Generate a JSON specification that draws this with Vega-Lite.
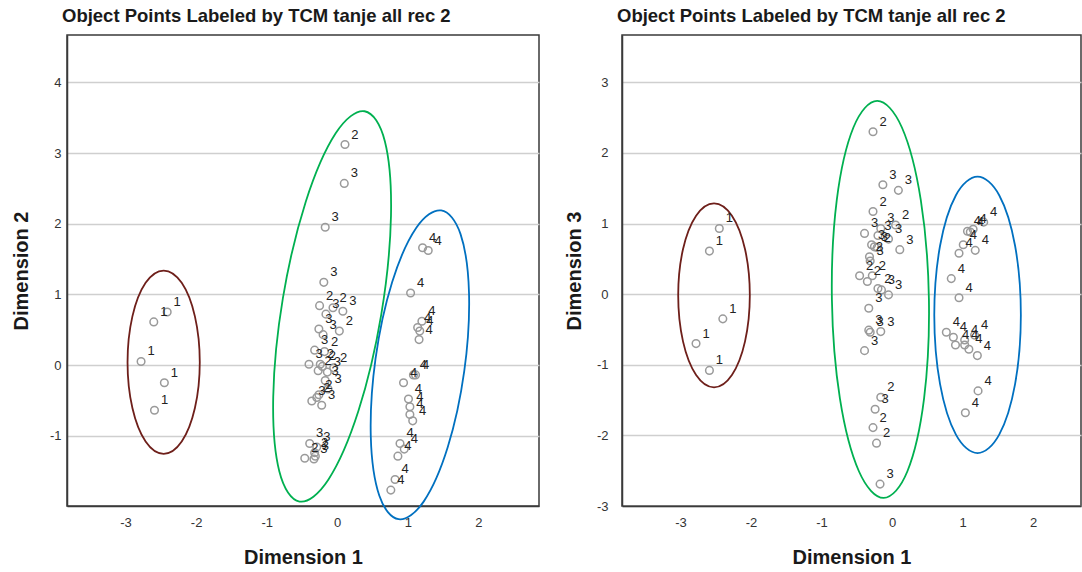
{
  "$schema": "https://vega.github.io/schema/vega-lite/v6.json",
  "background": "white",
  "padding": {"left": 10, "top": 5, "right": 0, "bottom": 0},
  "spacing": 23,
  "config": {
    "font": "Liberation Sans",
    "view": {"stroke": "#3a3a3a", "strokeWidth": 1.5},
    "axis": {
      "labelFont": "Liberation Sans",
      "labelFontSize": 13,
      "labelColor": "#333333",
      "titleFont": "Liberation Sans",
      "titleFontSize": 20,
      "titleFontWeight": "bold",
      "titleColor": "#1a1a1a",
      "ticks": false,
      "tickSize": 0,
      "domainColor": "#3a3a3a",
      "domainWidth": 1.5,
      "gridColor": "#cfcfcf",
      "gridWidth": 1.5,
      "labelExpr": "'' + datum.value"
    },
    "axisX": {"grid": false, "labelPadding": 10, "titlePadding": 18},
    "axisY": {"grid": true, "labelPadding": 6, "titlePadding": 18},
    "title": {
      "font": "Liberation Sans",
      "fontSize": 18.5,
      "fontWeight": "bold",
      "color": "#1a1a1a",
      "anchor": "start",
      "frame": "group",
      "offset": 10,
      "dx": -5
    }
  },
  "datasets": {
    "dim2Points": [
      {"dim1": -2.41, "dim2": 0.75, "label": "1"},
      {"dim1": -2.60, "dim2": 0.61, "label": "1"},
      {"dim1": -2.78, "dim2": 0.05, "label": "1"},
      {"dim1": -2.45, "dim2": -0.25, "label": "1"},
      {"dim1": -2.59, "dim2": -0.64, "label": "1"},
      {"dim1": 0.11, "dim2": 3.12, "label": "2"},
      {"dim1": 0.10, "dim2": 2.57, "label": "3"},
      {"dim1": -0.17, "dim2": 1.95, "label": "3"},
      {"dim1": -0.19, "dim2": 1.17, "label": "3"},
      {"dim1": -0.25, "dim2": 0.84, "label": "2"},
      {"dim1": -0.06, "dim2": 0.81, "label": "2"},
      {"dim1": 0.08, "dim2": 0.76, "label": "3"},
      {"dim1": -0.16, "dim2": 0.72, "label": "3"},
      {"dim1": -0.26, "dim2": 0.51, "label": "3"},
      {"dim1": -0.20, "dim2": 0.43, "label": "3"},
      {"dim1": 0.03, "dim2": 0.48, "label": "2"},
      {"dim1": -0.32, "dim2": 0.21, "label": "3"},
      {"dim1": -0.18, "dim2": 0.19, "label": "2"},
      {"dim1": -0.40, "dim2": 0.01, "label": "3"},
      {"dim1": -0.24, "dim2": 0.01, "label": "2"},
      {"dim1": -0.21, "dim2": -0.02, "label": "2"},
      {"dim1": -0.27, "dim2": -0.08, "label": "2"},
      {"dim1": -0.14, "dim2": -0.10, "label": "3"},
      {"dim1": -0.05, "dim2": -0.04, "label": "2"},
      {"dim1": -0.17, "dim2": -0.22, "label": "3"},
      {"dim1": -0.13, "dim2": -0.34, "label": "3"},
      {"dim1": -0.26, "dim2": -0.42, "label": "2"},
      {"dim1": -0.29, "dim2": -0.46, "label": "2"},
      {"dim1": -0.36, "dim2": -0.51, "label": "3"},
      {"dim1": -0.22, "dim2": -0.57, "label": "3"},
      {"dim1": -0.39, "dim2": -1.11, "label": "3"},
      {"dim1": -0.29, "dim2": -1.16, "label": "3"},
      {"dim1": -0.32, "dim2": -1.24, "label": "2"},
      {"dim1": -0.31, "dim2": -1.29, "label": "3"},
      {"dim1": -0.46, "dim2": -1.32, "label": "2"},
      {"dim1": -0.33, "dim2": -1.33, "label": "3"},
      {"dim1": 1.21, "dim2": 1.66, "label": "4"},
      {"dim1": 1.29, "dim2": 1.62, "label": "4"},
      {"dim1": 1.04, "dim2": 1.02, "label": "4"},
      {"dim1": 1.20, "dim2": 0.62, "label": "4"},
      {"dim1": 1.14, "dim2": 0.53, "label": "4"},
      {"dim1": 1.17, "dim2": 0.48, "label": "4"},
      {"dim1": 1.16, "dim2": 0.36, "label": "4"},
      {"dim1": 1.11, "dim2": -0.14, "label": "4"},
      {"dim1": 1.08, "dim2": -0.14, "label": "4"},
      {"dim1": 0.94, "dim2": -0.25, "label": "4"},
      {"dim1": 1.01, "dim2": -0.48, "label": "4"},
      {"dim1": 1.03, "dim2": -0.59, "label": "4"},
      {"dim1": 1.03, "dim2": -0.70, "label": "4"},
      {"dim1": 1.07, "dim2": -0.79, "label": "4"},
      {"dim1": 0.89, "dim2": -1.11, "label": "4"},
      {"dim1": 0.95, "dim2": -1.19, "label": "4"},
      {"dim1": 0.86, "dim2": -1.29, "label": "4"},
      {"dim1": 0.82, "dim2": -1.62, "label": "4"},
      {"dim1": 0.76, "dim2": -1.77, "label": "4"}
    ],
    "dim2Rings": [
      {"ring": 1, "step": 0, "dim1": -1.948, "dim2": 0.04},
      {"ring": 1, "step": 1, "dim1": -2.017, "dim2": 0.689},
      {"ring": 1, "step": 2, "dim1": -2.204, "dim2": 1.163},
      {"ring": 1, "step": 3, "dim1": -2.46, "dim2": 1.337},
      {"ring": 1, "step": 4, "dim1": -2.716, "dim2": 1.163},
      {"ring": 1, "step": 5, "dim1": -2.903, "dim2": 0.689},
      {"ring": 1, "step": 6, "dim1": -2.972, "dim2": 0.04},
      {"ring": 1, "step": 7, "dim1": -2.903, "dim2": -0.609},
      {"ring": 1, "step": 8, "dim1": -2.716, "dim2": -1.083},
      {"ring": 1, "step": 9, "dim1": -2.46, "dim2": -1.257},
      {"ring": 1, "step": 10, "dim1": -2.204, "dim2": -1.083},
      {"ring": 1, "step": 11, "dim1": -2.017, "dim2": -0.609},
      {"ring": 2, "step": 0, "dim1": 0.389, "dim2": 3.591},
      {"ring": 2, "step": 1, "dim1": 0.676, "dim2": 3.163},
      {"ring": 2, "step": 2, "dim1": 0.762, "dim2": 2.109},
      {"ring": 2, "step": 3, "dim1": 0.624, "dim2": 0.713},
      {"ring": 2, "step": 4, "dim1": 0.300, "dim2": -0.652},
      {"ring": 2, "step": 5, "dim1": -0.124, "dim2": -1.620},
      {"ring": 2, "step": 6, "dim1": -0.534, "dim2": -1.932},
      {"ring": 2, "step": 7, "dim1": -0.821, "dim2": -1.504},
      {"ring": 2, "step": 8, "dim1": -0.907, "dim2": -0.450},
      {"ring": 2, "step": 9, "dim1": -0.770, "dim2": 0.946},
      {"ring": 2, "step": 10, "dim1": -0.446, "dim2": 2.311},
      {"ring": 2, "step": 11, "dim1": -0.022, "dim2": 3.279},
      {"ring": 3, "step": 0, "dim1": 1.474, "dim2": 2.188},
      {"ring": 3, "step": 1, "dim1": 1.748, "dim2": 1.852},
      {"ring": 3, "step": 2, "dim1": 1.868, "dim2": 1.020},
      {"ring": 3, "step": 3, "dim1": 1.801, "dim2": -0.084},
      {"ring": 3, "step": 4, "dim1": 1.566, "dim2": -1.165},
      {"ring": 3, "step": 5, "dim1": 1.225, "dim2": -1.933},
      {"ring": 3, "step": 6, "dim1": 0.870, "dim2": -2.182},
      {"ring": 3, "step": 7, "dim1": 0.596, "dim2": -1.846},
      {"ring": 3, "step": 8, "dim1": 0.476, "dim2": -1.014},
      {"ring": 3, "step": 9, "dim1": 0.543, "dim2": 0.090},
      {"ring": 3, "step": 10, "dim1": 0.778, "dim2": 1.171},
      {"ring": 3, "step": 11, "dim1": 1.119, "dim2": 1.939}
    ],
    "dim3Points": [
      {"dim1": -2.45, "dim3": 0.93, "label": "1"},
      {"dim1": -2.59, "dim3": 0.61, "label": "1"},
      {"dim1": -2.40, "dim3": -0.35, "label": "1"},
      {"dim1": -2.78, "dim3": -0.70, "label": "1"},
      {"dim1": -2.59, "dim3": -1.08, "label": "1"},
      {"dim1": -0.27, "dim3": 2.30, "label": "2"},
      {"dim1": -0.13, "dim3": 1.55, "label": "3"},
      {"dim1": 0.09, "dim3": 1.47, "label": "3"},
      {"dim1": -0.27, "dim3": 1.17, "label": "2"},
      {"dim1": 0.05, "dim3": 0.98, "label": "2"},
      {"dim1": -0.39, "dim3": 0.86, "label": "3"},
      {"dim1": -0.16, "dim3": 0.93, "label": "3"},
      {"dim1": -0.20, "dim3": 0.83, "label": "3"},
      {"dim1": -0.05, "dim3": 0.78, "label": "3"},
      {"dim1": -0.29, "dim3": 0.70, "label": "3"},
      {"dim1": -0.25, "dim3": 0.67, "label": "3"},
      {"dim1": -0.21, "dim3": 0.66, "label": "2"},
      {"dim1": 0.11, "dim3": 0.63, "label": "3"},
      {"dim1": -0.32, "dim3": 0.53, "label": "2"},
      {"dim1": -0.31, "dim3": 0.47, "label": "3"},
      {"dim1": -0.46, "dim3": 0.26, "label": "2"},
      {"dim1": -0.28, "dim3": 0.26, "label": "2"},
      {"dim1": -0.35, "dim3": 0.18, "label": "2"},
      {"dim1": -0.20, "dim3": 0.08, "label": "2"},
      {"dim1": -0.15, "dim3": 0.06, "label": "3"},
      {"dim1": -0.05, "dim3": -0.01, "label": "3"},
      {"dim1": -0.33, "dim3": -0.20, "label": "3"},
      {"dim1": -0.33, "dim3": -0.51, "label": "3"},
      {"dim1": -0.31, "dim3": -0.54, "label": "3"},
      {"dim1": -0.16, "dim3": -0.53, "label": "3"},
      {"dim1": -0.39, "dim3": -0.80, "label": "3"},
      {"dim1": -0.16, "dim3": -1.46, "label": "2"},
      {"dim1": -0.24, "dim3": -1.63, "label": "3"},
      {"dim1": -0.27, "dim3": -1.89, "label": "2"},
      {"dim1": -0.22, "dim3": -2.11, "label": "2"},
      {"dim1": -0.17, "dim3": -2.69, "label": "3"},
      {"dim1": 1.30, "dim3": 1.02, "label": "4"},
      {"dim1": 1.07, "dim3": 0.89, "label": "4"},
      {"dim1": 1.11, "dim3": 0.88, "label": "4"},
      {"dim1": 1.15, "dim3": 0.92, "label": "4"},
      {"dim1": 1.01, "dim3": 0.70, "label": "4"},
      {"dim1": 1.18, "dim3": 0.62, "label": "4"},
      {"dim1": 0.95, "dim3": 0.58, "label": "4"},
      {"dim1": 0.84, "dim3": 0.22, "label": "4"},
      {"dim1": 0.95, "dim3": -0.05, "label": "4"},
      {"dim1": 0.77, "dim3": -0.54, "label": "4"},
      {"dim1": 0.87, "dim3": -0.61, "label": "4"},
      {"dim1": 0.90, "dim3": -0.72, "label": "4"},
      {"dim1": 1.03, "dim3": -0.65, "label": "4"},
      {"dim1": 1.03, "dim3": -0.72, "label": "4"},
      {"dim1": 1.09, "dim3": -0.78, "label": "4"},
      {"dim1": 1.17, "dim3": -0.58, "label": "4"},
      {"dim1": 1.21, "dim3": -0.87, "label": "4"},
      {"dim1": 1.22, "dim3": -1.37, "label": "4"},
      {"dim1": 1.04, "dim3": -1.68, "label": "4"}
    ],
    "dim3Rings": [
      {"ring": 1, "step": 0, "dim1": -2.017, "dim3": -0.016},
      {"ring": 1, "step": 1, "dim1": -2.085, "dim3": 0.636},
      {"ring": 1, "step": 2, "dim1": -2.271, "dim3": 1.112},
      {"ring": 1, "step": 3, "dim1": -2.525, "dim3": 1.287},
      {"ring": 1, "step": 4, "dim1": -2.779, "dim3": 1.112},
      {"ring": 1, "step": 5, "dim1": -2.965, "dim3": 0.636},
      {"ring": 1, "step": 6, "dim1": -3.033, "dim3": -0.016},
      {"ring": 1, "step": 7, "dim1": -2.965, "dim3": -0.668},
      {"ring": 1, "step": 8, "dim1": -2.779, "dim3": -1.144},
      {"ring": 1, "step": 9, "dim1": -2.525, "dim3": -1.319},
      {"ring": 1, "step": 10, "dim1": -2.271, "dim3": -1.144},
      {"ring": 1, "step": 11, "dim1": -2.085, "dim3": -0.668},
      {"ring": 2, "step": 0, "dim1": 0.523, "dim3": -0.074},
      {"ring": 2, "step": 1, "dim1": 0.408, "dim3": 1.332},
      {"ring": 2, "step": 2, "dim1": 0.140, "dim3": 2.360},
      {"ring": 2, "step": 3, "dim1": -0.210, "dim3": 2.737},
      {"ring": 2, "step": 4, "dim1": -0.548, "dim3": 2.360},
      {"ring": 2, "step": 5, "dim1": -0.784, "dim3": 1.332},
      {"ring": 2, "step": 6, "dim1": -0.853, "dim3": -0.074},
      {"ring": 2, "step": 7, "dim1": -0.739, "dim3": -1.480},
      {"ring": 2, "step": 8, "dim1": -0.470, "dim3": -2.508},
      {"ring": 2, "step": 9, "dim1": -0.120, "dim3": -2.885},
      {"ring": 2, "step": 10, "dim1": 0.218, "dim3": -2.508},
      {"ring": 2, "step": 11, "dim1": 0.454, "dim3": -1.480},
      {"ring": 3, "step": 0, "dim1": 1.827, "dim3": -0.294},
      {"ring": 3, "step": 1, "dim1": 1.745, "dim3": 0.685},
      {"ring": 3, "step": 2, "dim1": 1.520, "dim3": 1.401},
      {"ring": 3, "step": 3, "dim1": 1.213, "dim3": 1.663},
      {"ring": 3, "step": 4, "dim1": 0.906, "dim3": 1.401},
      {"ring": 3, "step": 5, "dim1": 0.681, "dim3": 0.685},
      {"ring": 3, "step": 6, "dim1": 0.599, "dim3": -0.294},
      {"ring": 3, "step": 7, "dim1": 0.681, "dim3": -1.273},
      {"ring": 3, "step": 8, "dim1": 0.906, "dim3": -1.989},
      {"ring": 3, "step": 9, "dim1": 1.213, "dim3": -2.251},
      {"ring": 3, "step": 10, "dim1": 1.520, "dim3": -1.989},
      {"ring": 3, "step": 11, "dim1": 1.745, "dim3": -1.273}
    ]
  },
  "hconcat": [
    {
      "title": "Object Points Labeled by TCM tanje all rec 2",
      "width": 472,
      "height": 471,
      "encoding": {
        "x": {
          "field": "dim1",
          "type": "quantitative",
          "scale": {"domain": [-3.83, 2.86], "nice": false, "zero": false},
          "axis": {"title": "Dimension 1", "values": [-3, -2, -1, 0, 1, 2]}
        },
        "y": {
          "field": "dim2",
          "type": "quantitative",
          "scale": {"domain": [-1.995, 4.67], "nice": false, "zero": false},
          "axis": {"title": "Dimension 2", "values": [-2, -1, 0, 1, 2, 3, 4]}
        }
      },
      "layer": [
        {
          "data": {"name": "dim2Rings"},
          "mark": {"type": "line", "interpolate": "cardinal-closed", "strokeWidth": 1.8},
          "encoding": {
            "color": {
              "field": "ring",
              "type": "nominal",
              "scale": {"domain": [1, 2, 3], "range": ["#6e1f1a", "#00b050", "#0070c0"]},
              "legend": null
            },
            "order": {"field": "step", "type": "quantitative"}
          }
        },
        {
          "data": {"name": "dim2Points"},
          "mark": {"type": "point", "shape": "circle", "filled": false, "size": 58, "strokeWidth": 1.5, "color": "#9a9a9a", "opacity": 1}
        },
        {
          "data": {"name": "dim2Points"},
          "mark": {"type": "text", "dx": 10, "dy": -10, "fontSize": 13, "font": "Liberation Sans", "color": "#222222"},
          "encoding": {"text": {"field": "label", "type": "nominal"}}
        }
      ]
    },
    {
      "title": "Object Points Labeled by TCM tanje all rec 2",
      "width": 459,
      "height": 471,
      "encoding": {
        "x": {
          "field": "dim1",
          "type": "quantitative",
          "scale": {"domain": [-3.83, 2.68], "nice": false, "zero": false},
          "axis": {"title": "Dimension 1", "values": [-3, -2, -1, 0, 1, 2]}
        },
        "y": {
          "field": "dim3",
          "type": "quantitative",
          "scale": {"domain": [-3.0, 3.67], "nice": false, "zero": false},
          "axis": {"title": "Dimension 3", "values": [-3, -2, -1, 0, 1, 2, 3], "labelPadding": 14, "titlePadding": 12}
        }
      },
      "layer": [
        {
          "data": {"name": "dim3Rings"},
          "mark": {"type": "line", "interpolate": "cardinal-closed", "strokeWidth": 1.8},
          "encoding": {
            "color": {
              "field": "ring",
              "type": "nominal",
              "scale": {"domain": [1, 2, 3], "range": ["#6e1f1a", "#00b050", "#0070c0"]},
              "legend": null
            },
            "order": {"field": "step", "type": "quantitative"}
          }
        },
        {
          "data": {"name": "dim3Points"},
          "mark": {"type": "point", "shape": "circle", "filled": false, "size": 58, "strokeWidth": 1.5, "color": "#9a9a9a", "opacity": 1}
        },
        {
          "data": {"name": "dim3Points"},
          "mark": {"type": "text", "dx": 10, "dy": -10, "fontSize": 13, "font": "Liberation Sans", "color": "#222222"},
          "encoding": {"text": {"field": "label", "type": "nominal"}}
        }
      ]
    }
  ],
  "resolve": {"scale": {"color": "shared"}}
}
